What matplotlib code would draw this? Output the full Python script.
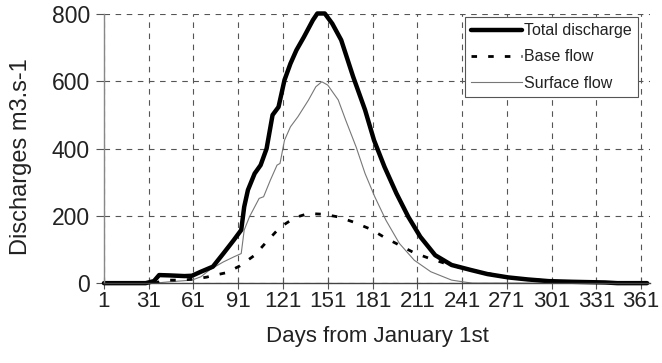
import matplotlib
matplotlib.use('Agg')
import matplotlib.pyplot as plt

plt.rcParams['font.family'] = ['Liberation Sans', 'DejaVu Sans']

# values
total_days = [1, 29, 34.5, 38, 45, 55, 60, 66, 74, 81, 88, 93, 95, 97.5, 102, 106,
              110, 114, 118, 122, 126, 130, 135, 141, 144, 149, 154, 160, 168, 176,
              182, 189, 197, 205, 213, 223, 234, 247, 258, 272, 285, 299, 315, 337,
              345, 365]
total_q = [0, 0, 6, 24, 23, 21, 22, 34, 49, 88, 128, 158, 227, 277, 326, 351,
           400, 500, 524, 604, 653, 693, 732, 782, 802, 802, 772, 723, 614, 515,
           425, 346, 267, 197, 138, 83, 54, 39, 27, 17, 11, 6, 4, 2,
           0, 0]

base_days = [1, 35, 42, 52, 62, 70, 72.5, 83, 92, 102, 110, 119, 129, 138, 148,
             158, 168, 180, 189, 199, 209, 219.5, 229.5, 240, 250, 270, 300, 340, 365]
base_q = [0, 0, 9, 9, 12, 18, 21, 31, 51, 83, 123, 166, 195, 207, 205,
          197, 182, 160, 136, 113, 90, 73, 59, 46, 36, 18, 6, 1, 0]

surface_days = [1, 35, 45, 60, 66, 72, 81, 88, 93, 95, 98.5, 105, 108, 112.5, 117,
                119, 122, 126, 131, 138, 143, 147, 151, 158, 163, 170, 176, 182.5,
                190, 199, 209, 220, 234, 243, 248, 365]
surface_q = [0, 0, 4, 9, 19, 40, 63, 78, 88, 158, 197, 252, 257, 306, 351,
             356, 425, 465, 495, 544, 584, 599, 589, 545, 485, 405, 326, 257,
             187, 118, 68, 34, 9, 3, 0, 0]

xticks = [1, 31, 61, 91, 121, 151, 181, 211, 241, 271, 301, 331, 361]
yticks = [0, 200, 400, 600, 800]

fig = plt.figure(figsize=(6.62, 3.63), dpi=100)
ax = fig.add_axes([0.157, 0.220, 0.825, 0.741])

l_surf, = ax.plot(surface_days, surface_q, color='#777777', lw=0.8, label='Surface flow')
l_base, = ax.plot(base_days, base_q, color='black', lw=2, dashes=(2, 4), label='Base flow')
l_tot, = ax.plot(total_days, total_q, color='black', lw=3.2, label='Total discharge',
                 solid_capstyle='round', clip_on=False)

ax.set_xlim(1, 367)
ax.set_ylim(0, 800)
ax.set_xticks(xticks)
ax.set_yticks(yticks)

ax.grid(True, color='#555555', lw=0.8, ls=(0, (5, 5)))
ax.set_axisbelow(True)

for s in ['top', 'right']:
    ax.spines[s].set_visible(False)
ax.spines['left'].set_color('#888888')
ax.spines['bottom'].set_color('#444444')
ax.spines['left'].set_linewidth(1.0)
ax.spines['bottom'].set_linewidth(1.0)

ax.tick_params(axis='x', direction='inout', length=8, color='#555555',
               labelsize=16, labelcolor='#222222', pad=2)
ax.tick_params(axis='y', direction='out', length=6, color='#555555',
               labelsize=16.5, labelcolor='#222222', pad=4)

ax.set_xlabel('Days from January 1st', fontsize=16, color='#222222', labelpad=10)
ax.set_ylabel('Discharges m3.s-1', fontsize=17, color='#222222')
ax.yaxis.set_label_coords(-0.132, 0.47)

leg = ax.legend(handles=[l_tot, l_base, l_surf], loc='upper right',
                bbox_to_anchor=(0.978, 0.99), borderaxespad=0, fontsize=11.5,
                handlelength=3.2, handletextpad=0.1, borderpad=0.4,
                labelspacing=0.7, fancybox=False, framealpha=1,
                edgecolor='#555555')
leg.get_frame().set_linewidth(0.8)
for t in leg.get_texts():
    t.set_color('#222222')

fig.savefig('out.png', dpi=100)
